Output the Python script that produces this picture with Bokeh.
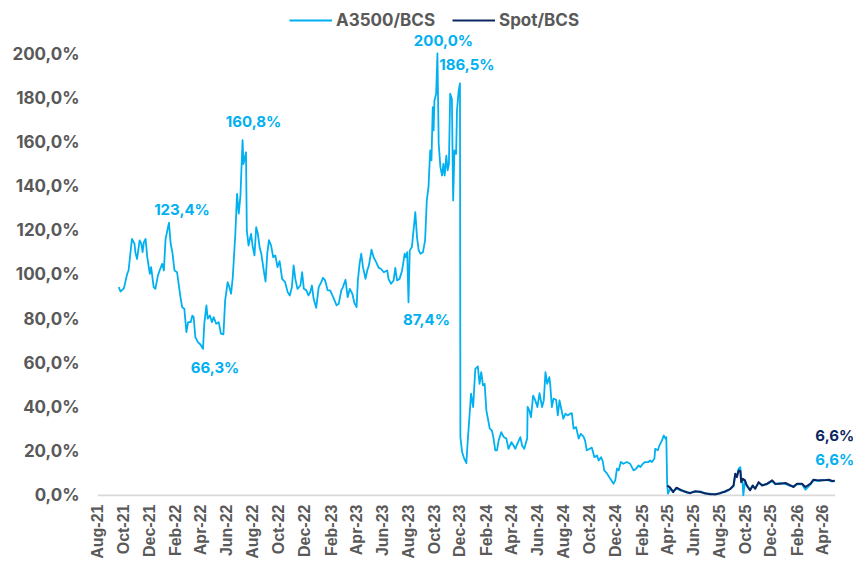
import math
import pandas as pd
from bokeh.plotting import figure
from bokeh.models import (ColumnDataSource, Range1d, FixedTicker, DatetimeTickFormatter,
                          Legend, LegendItem, LabelSet)
from bokeh.core.properties import value
from bokeh.embed import file_html
from bokeh.resources import INLINE

# ---------------- data ----------------
a3500_dates = [
    "2021-09-20", "2021-09-24", "2021-10-02", "2021-10-10", "2021-10-13", "2021-10-21", "2021-10-27", "2021-10-29",
    "2021-11-02", "2021-11-08", "2021-11-12", "2021-11-15", "2021-11-18", "2021-11-22", "2021-11-26",
    "2021-12-02", "2021-12-05", "2021-12-11", "2021-12-15", "2021-12-21", "2021-12-25", "2021-12-31",
    "2022-01-04", "2022-01-08", "2022-01-16", "2022-01-20", "2022-01-24", "2022-01-29",
    "2022-02-04", "2022-02-12", "2022-02-16", "2022-02-21", "2022-02-26",
    "2022-03-02", "2022-03-08", "2022-03-12", "2022-03-15", "2022-03-19", "2022-03-25", "2022-03-31",
    "2022-04-06", "2022-04-09", "2022-04-14", "2022-04-17", "2022-04-22", "2022-04-27",
    "2022-05-01", "2022-05-07", "2022-05-13", "2022-05-18", "2022-05-24", "2022-05-28",
    "2022-06-03", "2022-06-07", "2022-06-11", "2022-06-15", "2022-06-21", "2022-06-25", "2022-06-29",
    "2022-07-03", "2022-07-08", "2022-07-10", "2022-07-16", "2022-07-18", "2022-07-22", "2022-07-28",
    "2022-08-01", "2022-08-05", "2022-08-09", "2022-08-13", "2022-08-17", "2022-08-21", "2022-08-27", "2022-08-31",
    "2022-09-04", "2022-09-08", "2022-09-13", "2022-09-18", "2022-09-23", "2022-09-28",
    "2022-10-03", "2022-10-09", "2022-10-16", "2022-10-22", "2022-10-27",
    "2022-11-01", "2022-11-05", "2022-11-09", "2022-11-14", "2022-11-21", "2022-11-25", "2022-11-29",
    "2022-12-05", "2022-12-10", "2022-12-14", "2022-12-18", "2022-12-22", "2022-12-28",
    "2023-01-03", "2023-01-09", "2023-01-13", "2023-01-18", "2023-01-24", "2023-01-30",
    "2023-02-06", "2023-02-14", "2023-02-19", "2023-02-25",
    "2023-03-01", "2023-03-07", "2023-03-12", "2023-03-17", "2023-03-23", "2023-03-28",
    "2023-04-02", "2023-04-05", "2023-04-09", "2023-04-13", "2023-04-17", "2023-04-23", "2023-04-27",
    "2023-05-01", "2023-05-07", "2023-05-12", "2023-05-18", "2023-05-24", "2023-05-29",
    "2023-06-05", "2023-06-13", "2023-06-16", "2023-06-22", "2023-06-28",
    "2023-07-02", "2023-07-06", "2023-07-12", "2023-07-18", "2023-07-24", "2023-07-27", "2023-07-30",
    "2023-08-02", "2023-08-05", "2023-08-10", "2023-08-13", "2023-08-18", "2023-08-22", "2023-08-26", "2023-08-30",
    "2023-09-05", "2023-09-10", "2023-09-14", "2023-09-18", "2023-09-22", "2023-09-25", "2023-09-28", "2023-09-30",
    "2023-10-02", "2023-10-06", "2023-10-09", "2023-10-12", "2023-10-16", "2023-10-20", "2023-10-23", "2023-10-26", "2023-10-30",
    "2023-11-02", "2023-11-05", "2023-11-08", "2023-11-12", "2023-11-15", "2023-11-18", "2023-11-22", "2023-11-24", "2023-11-28",
    "2023-12-01", "2023-12-02", "2023-12-06", "2023-12-11", "2023-12-16", "2023-12-18", "2023-12-21", "2023-12-27",
    "2024-01-01", "2024-01-06", "2024-01-12", "2024-01-16", "2024-01-20", "2024-01-24", "2024-01-28",
    "2024-02-01", "2024-02-04", "2024-02-09", "2024-02-14", "2024-02-18", "2024-02-22", "2024-02-26",
    "2024-03-01", "2024-03-07", "2024-03-13", "2024-03-19", "2024-03-24", "2024-03-31",
    "2024-04-05", "2024-04-09", "2024-04-14", "2024-04-21", "2024-04-25", "2024-04-30",
    "2024-05-07", "2024-05-08", "2024-05-12", "2024-05-16", "2024-05-21", "2024-05-26", "2024-05-31",
    "2024-06-05", "2024-06-11", "2024-06-15", "2024-06-19", "2024-06-23", "2024-06-28", "2024-06-30",
    "2024-07-04", "2024-07-08", "2024-07-14", "2024-07-18", "2024-07-22", "2024-07-26", "2024-07-31",
    "2024-08-05", "2024-08-10", "2024-08-16", "2024-08-20", "2024-08-24", "2024-08-30",
    "2024-09-05", "2024-09-10", "2024-09-16", "2024-09-20", "2024-09-24",
    "2024-10-01", "2024-10-06", "2024-10-12", "2024-10-18", "2024-10-22", "2024-10-28",
    "2024-11-01", "2024-11-04", "2024-11-10", "2024-11-18", "2024-11-26", "2024-11-30",
    "2024-12-04", "2024-12-08", "2024-12-13", "2024-12-19", "2024-12-27",
    "2025-01-04", "2025-01-12", "2025-01-18", "2025-01-24", "2025-01-28",
    "2025-02-03", "2025-02-08", "2025-02-16", "2025-02-20", "2025-02-24",
    "2025-03-02", "2025-03-04", "2025-03-10", "2025-03-14", "2025-03-20", "2025-03-24", "2025-03-28", "2025-03-30",
    "2025-04-01", "2025-04-03", "2025-04-08", "2025-04-15", "2025-04-23",
    "2025-05-02", "2025-05-09", "2025-05-17", "2025-05-25",
    "2025-06-06", "2025-06-18", "2025-06-29", "2025-07-11", "2025-07-23",
    "2025-08-04", "2025-08-16", "2025-08-24", "2025-08-28",
    "2025-09-04", "2025-09-08", "2025-09-12", "2025-09-16", "2025-09-20", "2025-09-23", "2025-09-25", "2025-09-27",
    "2025-10-01", "2025-10-05", "2025-10-13", "2025-10-19", "2025-10-25",
    "2025-11-02", "2025-11-10", "2025-11-22", "2025-12-04", "2025-12-11", "2025-12-23",
    "2026-01-04", "2026-01-16", "2026-01-23", "2026-01-31", "2026-02-12", "2026-02-20",
    "2026-03-04", "2026-03-11", "2026-03-23", "2026-04-04", "2026-04-16", "2026-04-24", "2026-04-30",
]
a3500_values = [
    94.3, 92.3, 93.7, 100.4, 101.8, 116.1, 113.9, 110.0,
    107.0, 115.4, 113.9, 110.1, 114.6, 116.1, 107.8,
    100.3, 103.3, 94.3, 93.5, 99.5, 101.8, 104.8,
    101.8, 116.1, 123.4, 113.9, 110.0, 101.8,
    101.0, 89.7, 85.2, 84.5, 73.9,
    78.4, 78.4, 81.4, 80.7, 71.6, 69.4, 68.3,
    66.3, 77.7, 86.0, 80.0, 81.4, 78.4,
    80.7, 77.7, 78.4, 73.2, 72.9, 88.2,
    96.5, 94.3, 91.3, 98.8, 118.4, 136.5, 127.5,
    135.7, 160.8, 150.0, 155.3, 119.9, 113.1, 118.4,
    112.4, 108.6, 121.4, 118.4, 112.4, 109.4, 101.5, 96.8,
    109.4, 115.5, 113.1, 107.8, 108.6, 103.3,
    106.0, 98.0, 96.5, 92.0, 90.5,
    94.3, 104.1, 98.0, 93.5, 95.0, 101.0, 93.5,
    92.8, 90.5, 92.0, 95.0, 89.0, 84.9,
    94.3, 96.5, 98.5, 97.3, 92.8, 92.8,
    89.7, 86.0, 86.7, 92.8,
    94.3, 97.6, 89.7, 93.5, 91.3, 87.0,
    85.2, 97.3, 104.8, 109.4, 103.3, 98.0, 101.8,
    104.1, 111.2, 107.8, 105.6, 103.0, 102.6,
    101.0, 101.8, 98.0, 95.8, 97.3,
    103.0, 97.3, 98.0, 101.8, 109.4, 107.8, 110.1,
    87.4, 110.9, 112.4, 118.4, 128.2, 116.9, 110.9, 109.4,
    110.1, 115.4, 133.5, 139.5, 156.1, 151.6, 175.7, 165.2,
    178.7, 181.8, 200.0, 159.1, 148.6, 144.8, 150.1, 144.8, 153.8,
    147.1, 150.1, 181.8, 179.5, 133.5, 156.1, 154.6, 174.2, 183.3,
    186.5, 26.4, 19.6, 16.6, 14.6, 21.1, 29.4, 46.0,
    40.0, 57.3, 58.4, 50.5, 55.8, 49.8, 50.5,
    38.5, 35.4, 30.2, 29.4, 25.7, 20.4, 20.4,
    24.9, 28.6, 26.4, 25.7, 21.1, 24.1,
    22.6, 21.1, 23.4, 26.4, 22.6, 21.1,
    25.7, 40.0, 38.5, 35.4, 45.2, 43.0, 40.0,
    46.3, 40.0, 43.0, 55.8, 50.5, 53.5, 50.5,
    40.0, 43.8, 43.3, 36.2, 43.0, 39.2, 34.7,
    37.0, 36.2, 37.0, 37.2, 30.2, 30.9,
    25.7, 27.9, 26.7, 24.9, 20.4,
    21.1, 21.6, 17.3, 18.1, 15.8, 17.3,
    15.1, 11.3, 10.1, 7.6, 5.3, 6.8,
    12.1, 11.3, 15.1, 14.3, 15.1,
    14.3, 11.3, 12.1, 13.6, 12.8,
    14.3, 15.1, 15.1, 15.8, 15.1,
    16.6, 21.1, 20.4, 22.6, 24.9, 27.1, 25.7, 26.4,
    5.3, 0.8, 3.0, 2.0, 3.0,
    2.2, 2.2, 1.2, 1.3,
    1.6, 1.8, 0.8, 0.8, 0.3,
    1.2, 1.6, 2.4, 3.2,
    4.0, 9.0, 9.0, 12.0, 12.8, 6.5, 7.0, 0.0,
    6.5, 4.8, 2.6, 4.2, 3.2,
    5.6, 4.8, 5.0, 6.4, 5.0, 5.6,
    5.2, 4.2, 4.2, 5.0, 5.0, 2.6,
    5.0, 6.8, 6.5, 7.0, 6.8, 6.2, 6.6,
]

spot_dates = [
    "2025-04-01", "2025-04-08", "2025-04-15", "2025-04-23",
    "2025-05-02", "2025-05-09", "2025-05-17", "2025-05-25",
    "2025-06-06", "2025-06-18", "2025-06-29", "2025-07-11", "2025-07-23",
    "2025-08-04", "2025-08-16", "2025-08-24", "2025-08-28",
    "2025-09-04", "2025-09-08", "2025-09-12", "2025-09-16", "2025-09-20", "2025-09-22", "2025-09-26",
    "2025-10-01", "2025-10-05", "2025-10-13", "2025-10-19", "2025-10-25",
    "2025-11-02", "2025-11-10", "2025-11-22", "2025-12-04", "2025-12-11", "2025-12-23",
    "2026-01-04", "2026-01-16", "2026-01-23", "2026-01-31", "2026-02-12", "2026-02-20",
    "2026-03-04", "2026-03-11", "2026-03-23", "2026-04-04", "2026-04-16", "2026-04-24", "2026-04-30",
]
spot_values = [
    4.5, 3.5, 1.5, 3.5,
    2.6, 1.9, 1.5, 1.0,
    1.9, 1.5, 1.0, 0.5, 0.5,
    1.0, 1.9, 2.6, 3.0,
    4.5, 9.8, 8.3, 11.3, 11.0, 6.0, 7.5,
    6.8, 4.5, 2.3, 4.5, 3.0,
    6.0, 4.5, 5.3, 6.8, 5.3, 5.3,
    5.6, 4.5, 3.8, 5.3, 5.3, 3.8,
    5.3, 7.1, 6.8, 6.8, 7.1, 6.5, 6.6,
]

series_names = ["A3500/BCS", "Spot/BCS"]
x_tick_dates = [
    "2021-08-01", "2021-10-01", "2021-12-01", "2022-02-01", "2022-04-01", "2022-06-01",
    "2022-08-01", "2022-10-01", "2022-12-01", "2023-02-01", "2023-04-01", "2023-06-01",
    "2023-08-01", "2023-10-01", "2023-12-01", "2024-02-01", "2024-04-01", "2024-06-01",
    "2024-08-01", "2024-10-01", "2024-12-01", "2025-02-01", "2025-04-01", "2025-06-01",
    "2025-08-01", "2025-10-01", "2025-12-01", "2026-02-01", "2026-04-01",
]
x_axis_start = "2021-08-01"
x_axis_end = "2026-05-01"
x_view_end = "2026-06-13"
y_ticks = [0, 20, 40, 60, 80, 100, 120, 140, 160, 180, 200]

# dates of the annotated A3500 points
annotated_dates = ["2023-10-09", "2023-12-01", "2022-07-08", "2022-01-16", "2022-04-06", "2023-08-02"]

# ---------------- styling ----------------
LIGHT = "#00B0F0"
DARK = "#0B2660"
GREY = "#595959"
AXIS = "#D9D9D9"


def pct(v):
    return f"{v:.1f}".replace(".", ",") + "%"


a_src = ColumnDataSource(dict(x=pd.to_datetime(a3500_dates), y=a3500_values))
s_src = ColumnDataSource(dict(x=pd.to_datetime(spot_dates), y=spot_values))

p = figure(width=853, height=562, x_axis_type="datetime",
           x_range=Range1d(pd.Timestamp(x_axis_start), pd.Timestamp(x_view_end)),
           y_range=Range1d(-0.5, 224.0),
           output_backend="svg", toolbar_location=None,
           min_border_left=97, min_border_right=0, min_border_top=0, min_border_bottom=66)
p.outline_line_color = None
p.xgrid.visible = False
p.ygrid.visible = False
p.background_fill_color = "white"
p.border_fill_color = "white"

# horizontal axis line at 0 spanning the date axis
p.segment(x0=[pd.Timestamp(x_axis_start)], y0=[0], x1=[pd.Timestamp(x_axis_end)], y1=[0],
          line_color=AXIS, line_width=2)

r_a = p.line("x", "y", source=a_src, line_color=LIGHT, line_width=1.8, line_join="round")
r_s = p.line("x", "y", source=s_src, line_color=DARK, line_width=2.0, line_join="round")

# y axis
p.yaxis.ticker = FixedTicker(ticks=y_ticks)
p.yaxis.major_label_overrides = {t: pct(t) for t in y_ticks}
p.yaxis.axis_line_color = None
p.yaxis.major_tick_line_color = None
p.yaxis.minor_tick_line_color = None
p.yaxis.major_tick_out = 0
p.yaxis.major_tick_in = 0
p.yaxis.major_label_standoff = 18
p.yaxis.major_label_text_font = "Inter"
p.yaxis.major_label_text_font_style = "bold"
p.yaxis.major_label_text_font_size = "17px"
p.yaxis.major_label_text_color = GREY

# x axis
p.xaxis.ticker = FixedTicker(ticks=[pd.Timestamp(d).value // 10**6 for d in x_tick_dates])
fmt = "%b-%y"
p.xaxis.formatter = DatetimeTickFormatter(milliseconds=fmt, seconds=fmt, minsec=fmt, minutes=fmt,
                                          hourmin=fmt, hours=fmt, days=fmt, months=fmt, years=fmt)
p.xaxis.major_label_orientation = math.pi / 2
p.xaxis.axis_line_color = None
p.xaxis.major_tick_line_color = None
p.xaxis.minor_tick_line_color = None
p.xaxis.major_tick_out = 0
p.xaxis.major_tick_in = 0
p.xaxis.major_label_standoff = 8
p.xaxis.major_label_text_font = "Liberation Sans"
p.xaxis.major_label_text_font_style = "bold"
p.xaxis.major_label_text_font_size = "16px"
p.xaxis.major_label_text_color = GREY

# data labels
lookup = dict(zip(a3500_dates, a3500_values))
ann_x = [pd.Timestamp(d) for d in annotated_dates]
ann_y = [lookup[d] for d in annotated_dates]
ann_xo = [6, 7, 11, 13, 12, 18]
ann_yo = [13, 19, 19, 13, -19, -17]
ann_col = [LIGHT] * len(ann_x)

ann_x += [pd.Timestamp(spot_dates[-1]), pd.Timestamp(a3500_dates[-1])]
ann_y += [spot_values[-1], a3500_values[-1]]
ann_xo += [0, 0]
ann_yo += [45, 21]
ann_col += [DARK, LIGHT]

lab_src = ColumnDataSource(dict(x=ann_x, y=ann_y, text=[pct(v) for v in ann_y],
                                xo=ann_xo, yo=ann_yo, c=ann_col))
labels = LabelSet(x="x", y="y", text="text", source=lab_src, x_offset="xo", y_offset="yo",
                  text_color="c", text_align="center", text_baseline="middle",
                  text_font=value("Inter"), text_font_style="bold", text_font_size="15px")
p.add_layout(labels)

legend = Legend(items=[LegendItem(label=series_names[0], renderers=[r_a]),
                       LegendItem(label=series_names[1], renderers=[r_s])],
                orientation="horizontal", location=(192, 466),
                glyph_width=43, glyph_height=18, label_standoff=4, spacing=17,
                padding=0, margin=0, border_line_alpha=0, background_fill_alpha=0,
                label_text_font="Inter", label_text_font_style="bold",
                label_text_font_size="17px", label_text_color=GREY)
p.add_layout(legend)

open("out.html", "w").write(file_html(p, INLINE))
